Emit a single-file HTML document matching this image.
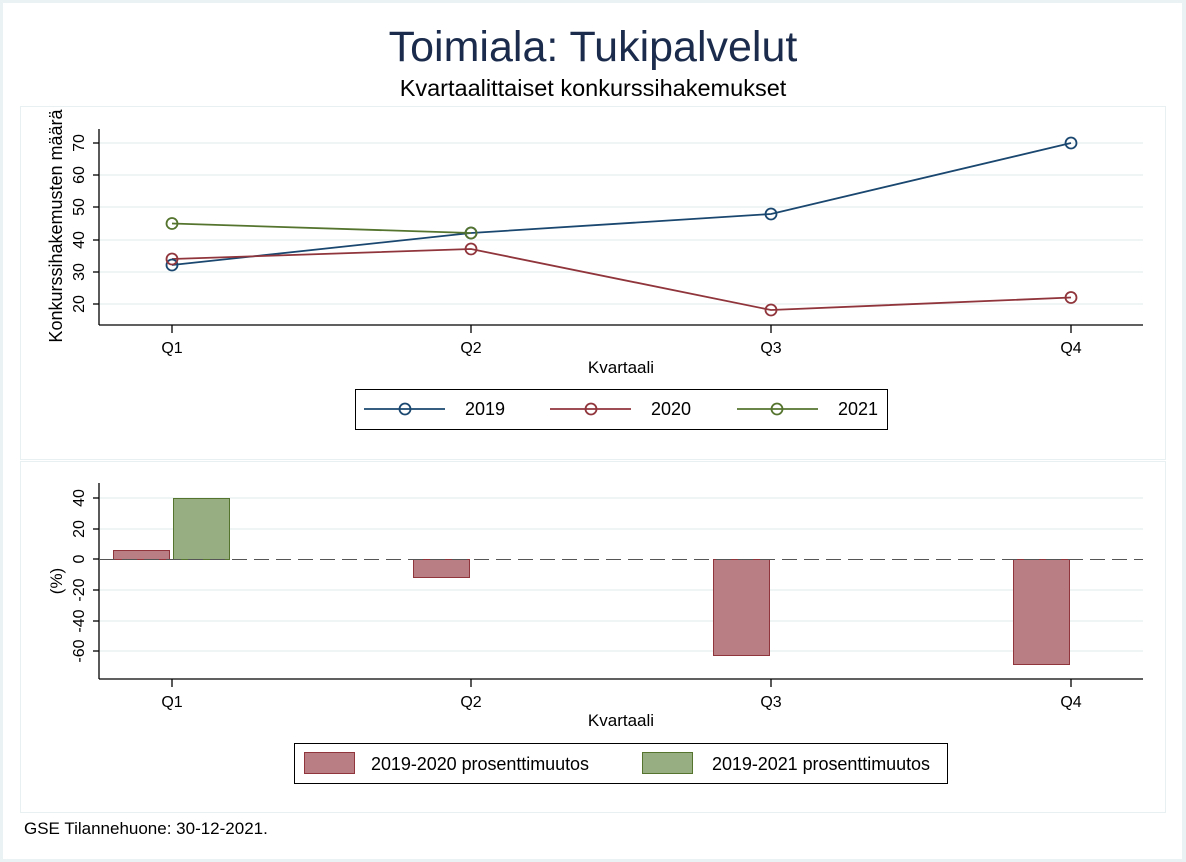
<!DOCTYPE html>
<html><head><meta charset="utf-8"><style>
html,body{margin:0;padding:0;background:#fff}
svg{display:block;font-family:"Liberation Sans",sans-serif}
</style></head><body>
<svg width="1186" height="862" viewBox="0 0 1186 862">
<rect x="0" y="0" width="1186" height="862" fill="#eaf2f3"/>
<rect x="3" y="3" width="1179" height="856" fill="#fff"/>
<text x="593" y="61" font-size="43" fill="#1a2b4c" text-anchor="middle">Toimiala: Tukipalvelut</text>
<text x="593" y="96" font-size="23.5" fill="#000" text-anchor="middle">Kvartaalittaiset konkurssihakemukset</text>
<!-- top panel -->
<rect x="20.5" y="106.5" width="1145" height="353" fill="#fff" stroke="#e8f0f2"/>
<g stroke="#eaf0f2" stroke-width="1.5">
<line x1="100" x2="1143" y1="143" y2="143"/><line x1="100" x2="1143" y1="175" y2="175"/>
<line x1="100" x2="1143" y1="207" y2="207"/><line x1="100" x2="1143" y1="240" y2="240"/>
<line x1="100" x2="1143" y1="272" y2="272"/><line x1="100" x2="1143" y1="304" y2="304"/>
</g>
<g stroke="#000" stroke-width="1.3">
<line x1="99" y1="129" x2="99" y2="325"/><line x1="99" y1="325" x2="1143" y2="325"/>
<line x1="93" x2="99" y1="143" y2="143"/><line x1="93" x2="99" y1="175" y2="175"/><line x1="93" x2="99" y1="207" y2="207"/>
<line x1="93" x2="99" y1="240" y2="240"/><line x1="93" x2="99" y1="272" y2="272"/><line x1="93" x2="99" y1="304" y2="304"/>
<line x1="172" x2="172" y1="325" y2="333"/><line x1="471" x2="471" y1="325" y2="333"/><line x1="771" x2="771" y1="325" y2="333"/><line x1="1071" x2="1071" y1="325" y2="333"/>
</g>
<g font-size="16" text-anchor="middle">
<text transform="translate(84,143) rotate(-90)">70</text><text transform="translate(84,175) rotate(-90)">60</text>
<text transform="translate(84,207) rotate(-90)">50</text><text transform="translate(84,240) rotate(-90)">40</text>
<text transform="translate(84,272) rotate(-90)">30</text><text transform="translate(84,304) rotate(-90)">20</text>
<text transform="translate(62,226) rotate(-90)" font-size="18">Konkurssihakemusten määrä</text>
<text x="172" y="353">Q1</text><text x="471" y="353">Q2</text><text x="771" y="353">Q3</text><text x="1071" y="353">Q4</text>
<text x="621" y="373" font-size="17">Kvartaali</text>
</g>
<g fill="none" stroke-width="1.8">
<polyline stroke="#1a476f" points="172,265 471,233 771,214 1071,143"/>
<polyline stroke="#90353b" points="172,259 471,249 771,310 1071,297.5"/>
<polyline stroke="#55752f" points="172,223.5 471,233"/>
<g stroke="#1a476f"><circle cx="172" cy="265" r="5.5"/><circle cx="471" cy="233" r="5.5"/><circle cx="771" cy="214" r="5.5"/><circle cx="1071" cy="143" r="5.5"/></g>
<g stroke="#90353b"><circle cx="172" cy="259" r="5.5"/><circle cx="471" cy="249" r="5.5"/><circle cx="771" cy="310" r="5.5"/><circle cx="1071" cy="297.5" r="5.5"/></g>
<g stroke="#55752f"><circle cx="172" cy="223.5" r="5.5"/><circle cx="471" cy="233" r="5.5"/></g>
</g>
<rect x="355.5" y="389.5" width="532" height="40" fill="#fff" stroke="#000"/>
<g stroke-width="1.8" fill="none">
<line x1="364" x2="445" y1="409" y2="409" stroke="#1a476f"/><circle cx="405" cy="409" r="5.5" stroke="#1a476f"/>
<line x1="550" x2="631" y1="409" y2="409" stroke="#90353b"/><circle cx="591" cy="409" r="5.5" stroke="#90353b"/>
<line x1="737" x2="818" y1="409" y2="409" stroke="#55752f"/><circle cx="777" cy="409" r="5.5" stroke="#55752f"/>
</g>
<g font-size="18"><text x="465" y="415">2019</text><text x="651" y="415">2020</text><text x="838" y="415">2021</text></g>
<!-- bottom panel -->
<rect x="20.5" y="461.5" width="1145" height="351" fill="#fff" stroke="#e8f0f2"/>
<g stroke="#eaf0f2" stroke-width="1.5">
<line x1="100" x2="1143" y1="498" y2="498"/><line x1="100" x2="1143" y1="529" y2="529"/>
<line x1="100" x2="1143" y1="590" y2="590"/><line x1="100" x2="1143" y1="621" y2="621"/><line x1="100" x2="1143" y1="651" y2="651"/>
</g>
<g stroke-width="1">
<rect x="113.5" y="550.5" width="56" height="9" fill="#b97e83" stroke="#90353b"/>
<rect x="173.5" y="498.5" width="56" height="61" fill="#97ae82" stroke="#55752f"/>
<rect x="413.5" y="559.5" width="56" height="18" fill="#b97e83" stroke="#90353b"/>
<rect x="713.5" y="559.5" width="56" height="96" fill="#b97e83" stroke="#90353b"/>
<rect x="1013.5" y="559.5" width="56" height="105" fill="#b97e83" stroke="#90353b"/>
</g>
<line x1="100" x2="1143" y1="559.5" y2="559.5" stroke="#555" stroke-width="1" stroke-dasharray="15,7"/>
<g stroke="#000" stroke-width="1.3">
<line x1="99" y1="483" x2="99" y2="679"/><line x1="99" y1="679" x2="1143" y2="679"/>
<line x1="93" x2="99" y1="498" y2="498"/><line x1="93" x2="99" y1="529" y2="529"/><line x1="93" x2="99" y1="559" y2="559"/>
<line x1="93" x2="99" y1="590" y2="590"/><line x1="93" x2="99" y1="621" y2="621"/><line x1="93" x2="99" y1="651" y2="651"/>
<line x1="172" x2="172" y1="679" y2="687"/><line x1="471" x2="471" y1="679" y2="687"/><line x1="771" x2="771" y1="679" y2="687"/><line x1="1071" x2="1071" y1="679" y2="687"/>
</g>
<g font-size="16" text-anchor="middle">
<text transform="translate(84,498) rotate(-90)">40</text><text transform="translate(84,529) rotate(-90)">20</text>
<text transform="translate(84,559) rotate(-90)">0</text><text transform="translate(84,590) rotate(-90)">-20</text>
<text transform="translate(84,621) rotate(-90)">-40</text><text transform="translate(84,651) rotate(-90)">-60</text>
<text transform="translate(62,581) rotate(-90)" font-size="17">(%)</text>
<text x="172" y="707">Q1</text><text x="471" y="707">Q2</text><text x="771" y="707">Q3</text><text x="1071" y="707">Q4</text>
<text x="621" y="726" font-size="17">Kvartaali</text>
</g>
<rect x="294.5" y="743.5" width="653" height="40" fill="#fff" stroke="#000"/>
<rect x="304.5" y="752.5" width="50" height="21" fill="#b97e83" stroke="#90353b"/>
<rect x="642.5" y="752.5" width="50" height="21" fill="#97ae82" stroke="#55752f"/>
<g font-size="18"><text x="371" y="770" textLength="218">2019-2020 prosenttimuutos</text><text x="712" y="770" textLength="218">2019-2021 prosenttimuutos</text></g>
<text x="24" y="834" font-size="17">GSE Tilannehuone: 30-12-2021.</text>
</svg>
</body></html>
